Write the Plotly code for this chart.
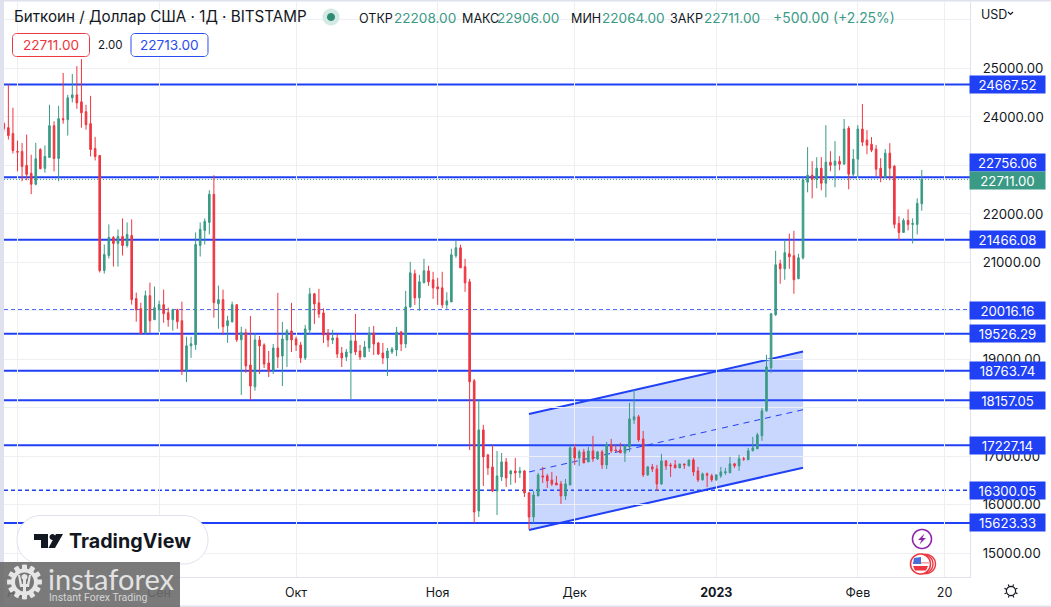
import math
import pandas as pd
import plotly.graph_objects as go

# ---------- data ----------
opens = [
 23861,23779,23656,
 23287,23287,23000,22837,22611,23328,22939,23164,23820,23144,23964,23943,24394,24455,24312,24107,23861,23349,23205,20831,21141,21514,21390,21535,21348,21555,20252,20044,19547,20313,19817,
 20024,20127,19962,19817,20024,19796,18782,19278,19299,21348,21659,21824,22404,20148,20231,19692,19775,20127,19402,19547,18882,18434,19399,19296,18924,18779,19234,19068,19399,19585,
 19420,19296,19027,19606,20350,20164,19957,19544,19399,19440,19130,19048,19130,19378,19172,19048,19234,19544,19337,19130,19027,19151,19192,19564,19316,20081,20763,20267,20577,20825,20639,
 20494,20474,20122,20184,21135,21300,20908,20598,18556,15871,17544,17028,16780,16284,16573,16883,16635,16697,16656,16697,16243,15747,16181,16594,16594,16511,16449,16429,16181,16408,
 17173,16966,17090,16883,17110,16945,17090,16821,17235,17131,17131,17069,17193,17751,17813,17358,16615,16780,16738,16429,16904,16821,16821,16759,16842,16800,16924,16697,16513,16637,16596,
 16513,16596,16658,16658,16843,16802,16947,16926,17111,17153,17421,17937,18824,19918,20971,20867,21177,21136,20661,21093,22653,22797,22715,22942,22632,23067,23004,23087,23025,23770,22818,
 23129,23750,23522,23439,23336,22942,22756,23253,22984,21804,21617,21866,21783,21783,22208]
highs = [
 23900,24667,24189,
 23513,23465,23636,23219,23465,23355,23410,24250,23909,24230,24906,24455,24886,25049,25193,24250,24435,23588,23205,21369,21783,21542,21680,21907,21824,21887,20375,20168,20417,20582,20500,
 20210,20438,20065,20044,20044,20190,19465,19465,21617,21824,21907,22487,22797,20520,20438,19899,20190,20127,19672,19630,19895,19537,19482,19330,19172,19316,20370,19771,19626,20164,
 19468,19358,19709,20474,20370,20453,20050,19626,19606,19523,19254,19213,19502,19936,19296,19378,19668,19688,19358,19337,19234,19254,19668,19585,20412,21011,20846,20742,21073,20929,20805,
 20680,20805,20384,21280,21466,21363,21073,20660,18594,18157,17647,17048,17234,17110,17069,16966,16718,16966,16780,16718,16263,16284,16656,16780,16635,16676,16594,16491,16532,17214,
 17255,17131,17152,17193,17420,17110,17131,17296,17358,17235,17276,17235,18102,18370,17854,17523,16800,16842,16821,17048,16924,16863,16924,16842,16842,16924,16966,16780,16664,16664,16637,
 16616,16781,16761,16988,16864,17029,16988,17173,17400,17483,17999,19093,19959,21239,21053,21466,21590,21652,21177,22756,23377,23087,23170,23170,23832,23294,23501,23191,23957,23812,23336,
 23832,24267,23729,23584,23418,23149,23336,23460,23004,21949,21907,22094,21907,22321,22906]
lows = [
 23700,23533,23246,
 22878,22673,22693,22406,22590,22919,22850,23164,22878,22673,23861,23615,24298,24168,23779,23738,23185,23103,20790,20769,21079,20914,20914,21141,21307,20127,19775,19526,19526,19547,19817,
 19568,19755,19672,19588,19630,18678,18533,19030,19195,21120,21369,21576,19858,19630,19506,19340,19755,19360,18264,18720,18157,18352,18696,18820,18634,18696,18820,18448,18841,19151,
 19172,18924,18986,19502,19730,19854,19337,19254,19316,19027,18841,18965,18180,19089,18986,19048,19151,19089,19089,18903,18655,19110,19068,19172,19234,20060,20122,20000,20577,20515,20246,
 20122,20060,20040,20184,21094,20887,20391,17130,15623,15747,16387,16615,16263,15788,16491,16367,16408,16449,16553,16160,15492,15623,16181,16449,16346,16387,16408,16016,16098,16408,
 16821,16800,16862,16883,16883,16925,16738,16738,17069,17100,17069,16883,17090,17668,17296,16573,16594,16676,16284,16408,16718,16573,16759,16759,16738,16800,16594,16470,16500,16362,16472,
 16493,16555,16616,16658,16761,16699,16905,16926,17111,17153,17318,17916,18721,19897,20558,20640,20867,20352,20661,21058,22445,22321,22528,22487,22342,22880,22549,22901,23025,22508,22756,
 22756,23398,23232,23274,22777,22653,22735,22694,21700,21452,21617,21659,21390,21576,22064]
closes = [
 23760,23615,23308,
 23274,22980,22816,22611,23137,22932,23185,23820,23144,23964,23943,24394,24455,24291,24086,23841,23328,23185,20831,21162,21514,21390,21535,21348,21576,20231,20024,19526,20313,19796,20065,
 20127,19941,19817,20024,19775,18761,19278,19320,21369,21680,21845,22404,20168,20231,19672,19796,20127,19402,19547,18864,18448,19399,19275,18903,18758,19234,19048,19420,19585,19399,
 19296,19027,19626,20350,20143,19936,19502,19399,19440,19110,19027,19151,19378,19151,19048,19255,19544,19316,19110,19027,19172,19213,19564,19316,20081,20784,20267,20598,20825,20598,20474,
 20453,20122,20205,21156,21300,20887,20577,18536,15850,17544,16987,16759,16284,16594,16883,16553,16697,16656,16697,16243,15747,16202,16615,16573,16491,16429,16408,16181,16429,17173,
 16966,17090,16862,17110,16945,17090,16821,17235,17110,17110,17069,17214,17771,17813,17338,16615,16780,16738,16429,16904,16800,16800,16759,16842,16821,16924,16676,16511,16637,16609,16513,
 16616,16678,16678,16843,16802,16947,16940,17111,17173,17442,17937,18845,19939,20950,20867,21198,21115,20641,21095,22701,22797,22715,22942,22632,23067,23004,23087,23025,23750,22818,23129,
 23750,23480,23418,23315,22922,22756,23253,22942,21783,21617,21866,21783,21804,22218,22711]
dates = pd.date_range("2022-07-29", periods=len(opens), freq="D")

solid_levels = [24667.52, 22756.06, 21466.08, 19526.29, 18763.74, 18157.05, 17227.14, 15623.33]
dashed_levels = [20016.16, 16300.05]
level_labels = [(24667.52, "24667.52", 0), (22756.06, "22756.06", 15), (21466.08, "21466.08", 0),
                (20016.16, "20016.16", 0), (19526.29, "19526.29", 0), (18763.74, "18763.74", 0),
                (18157.05, "18157.05", 0), (17227.14, "17227.14", 0), (16300.05, "16300.05", 0),
                (15623.33, "15623.33", 0)]
last_close = 22711.00
channel_dates = ["2022-11-21", "2023-01-20"]
channel_upper = [17872, 19159]
channel_lower = [15480, 16762]
channel_mid = [16676, 17960]
y_grid = list(range(15000, 26001, 1000))
y_shown = [15000, 16000, 17000, 19000, 21000, 22000, 24000, 25000]
month_ticks = ["2022-08-01", "2022-09-01", "2022-10-01", "2022-11-01", "2022-12-01", "2023-01-01", "2023-02-01", "2023-02-20"]
month_text = ["Авг", "Сен", "Окт", "Ноя", "Дек", "<b>2023</b>", "Фев", "20"]

# ---------- styling ----------
FONT = "Inter"
INK = "#131722"
GREEN = "#3a9a85"
RED = "#ee3640"
BLUE = "#1f40f5"
GRID = "#eeeff3"
EDGE = "#dfe2ee"
L, R, T, B = 4, 970, 2, 577
W, H = 1051, 607

def X(px): return (px - L) / (R - L)
def Y(py): return 1 - (py - T) / (B - T)
def P(pts, close=False):
    s = "M " + " L ".join(f"{X(a):.5f},{Y(b):.5f}" for a, b in pts)
    return s + (" Z" if close else "")
def arc_pts(cx, cy, rx, ry, a0, a1, n=14):
    return [(cx + rx * math.cos(math.radians(a0 + (a1 - a0) * i / n)),
             cy + ry * math.sin(math.radians(a0 + (a1 - a0) * i / n))) for i in range(n + 1)]
def rrect(x0, y0, x1, y1, r):
    pts = arc_pts(x0 + r, y0 + r, r, r, 180, 270) + arc_pts(x1 - r, y0 + r, r, r, 270, 360) \
        + arc_pts(x1 - r, y1 - r, r, r, 0, 90) + arc_pts(x0 + r, y1 - r, r, r, 90, 180)
    return P(pts, True)
def pshape(path, fill=None, line=None, lw=1, layer="above"):
    return dict(type="path", xref="paper", yref="paper", path=path, fillcolor=fill or "rgba(0,0,0,0)",
                line=dict(color=line or "rgba(0,0,0,0)", width=lw if line else 0), layer=layer)
def txt(x, y, s, size=13, color=INK, anchor="left", **kw):
    return dict(xref="paper", yref="paper", x=X(x), y=Y(y), text=s, showarrow=False, xanchor=anchor,
                yanchor="middle", font=dict(family=kw.pop("family", FONT), size=size, color=color),
                borderpad=0, **kw)

shapes, anns = [], []

# channel behind the candles
cx0, cx1 = channel_dates
shapes.append(dict(type="path", xref="x", yref="y", layer="below", fillcolor="rgba(41,90,250,0.25)", line=dict(width=0),
                   path=f"M {cx0},{channel_lower[0]} L {cx0},{channel_upper[0]} L {cx1},{channel_upper[1]} L {cx1},{channel_lower[1]} Z"))
for ys, dash, w in [(channel_upper, "solid", 2), (channel_lower, "solid", 2), (channel_mid, "6px,5px", 1)]:
    shapes.append(dict(type="line", xref="x", yref="y", x0=cx0, x1=cx1, y0=ys[0], y1=ys[1], layer="below",
                       line=dict(color=BLUE, width=w, dash=dash)))
for v in solid_levels:
    shapes.append(dict(type="line", xref="paper", yref="y", x0=0, x1=1, y0=v, y1=v, layer="below", line=dict(color=BLUE, width=2)))
for v in dashed_levels:
    shapes.append(dict(type="line", xref="paper", yref="y", x0=0, x1=1, y0=v, y1=v, layer="below", line=dict(color=BLUE, width=1.6, dash="4px,3px")))
shapes.append(dict(type="line", xref="paper", yref="y", x0=0, x1=1, y0=last_close, y1=last_close, layer="below", line=dict(color=GREEN, width=1, dash="1px,2px")))

# price labels on the axis
for v, s, shift in level_labels:
    anns.append(dict(xref="paper", yref="y", x=X(1008), y=v, xanchor="center", text=s, showarrow=False, width=75, height=17, align="center",
                     valign="middle", yshift=shift, bgcolor=BLUE, borderpad=0, font=dict(family=FONT, size=13.2, color="#ffffff")))
anns.append(dict(xref="paper", yref="y", x=X(1008), y=last_close, xanchor="center", text="22711.00", showarrow=False, width=75, height=17, align="center",
                 valign="middle", yshift=-1, bgcolor=GREEN, borderpad=0, font=dict(family=FONT, size=13.2, color="#ffffff")))

# frame
shapes += [
    pshape(P([(0, 0), (4, 0), (4, 607), (0, 607)], True), fill=EDGE),
    pshape(P([(0, 0), (1051, 0), (1051, 1.5), (0, 1.5)], True), fill=EDGE),
    pshape(P([(0, 605.5), (1051, 605.5), (1051, 607), (0, 607)], True), fill=EDGE),
]

# header
anns += [
    txt(13, 17, "Биткоин / Доллар США · 1Д · BITSTAMP", size=15.2),
    txt(358, 18, "ОТКР", size=12.6), txt(393, 18, "22208.00", size=13.6, color=GREEN),
    txt(461, 18, "МАКС", size=12.6), txt(496, 18, "22906.00", size=13.6, color=GREEN),
    txt(570, 18, "МИН", size=12.6), txt(601, 18, "22064.00", size=13.6, color=GREEN),
    txt(669, 18, "ЗАКР", size=12.6), txt(703, 18, "22711.00", size=13.6, color=GREEN),
    txt(772, 18, "+500.00 (+2.25%)", size=13.9, color=GREEN),
    txt(51, 45, "22711.00", size=13.6, color=RED, anchor="center"),
    txt(110, 45.5, "2.00", size=11.5, anchor="center"),
    txt(169, 45, "22713.00", size=13.6, color="#2b4cf0", anchor="center"),
    txt(980, 14, "USD", size=12.5),
    txt(68, 541, "<b>TradingView</b>", size=19.7),
]
shapes += [
    pshape(P(arc_pts(331, 17, 8.5, 8.5, 0, 360, 30), True), fill="#d3e9e3"),
    pshape(P(arc_pts(331, 17, 4, 4, 0, 360, 20), True), fill="#2f8a72"),
    pshape(rrect(12.5, 33.5, 89.5, 56.5, 4), fill="#ffffff", line=RED),
    pshape(rrect(131, 33.5, 208, 56.5, 4), fill="#ffffff", line="#2b4cf0"),
    pshape(P([(1008, 12), (1010.5, 14.5), (1013, 12)]), line=INK, lw=1.2),
]

# TradingView badge
shapes.append(pshape(rrect(17, 515.5, 208, 564, 24), fill="#ffffff", line="#dfe2ee"))
shapes += [
    pshape(P([(34, 534), (48, 534), (48, 548), (41, 548), (41, 540), (34, 540)], True), fill=INK),
    pshape(P(arc_pts(52.5, 537, 3, 3, 0, 360, 16), True), fill=INK),
    pshape(P([(55, 548), (48.5, 548), (56, 534), (63, 534)], True), fill=INK),
]

# instaforex watermark
gear = []
for i in range(12):
    a = i * 30
    gear += arc_pts(24.5, 582, 17.5, 17.5, a - 8, a + 8, 2) + arc_pts(24.5, 582, 13.5, 13.5, a + 11, a + 19, 2)
shapes += [
    pshape(P([(0, 562), (180, 562), (180, 607), (0, 607)], True), fill="rgba(108,108,108,0.9)"),
    pshape(P(gear, True), fill="#e6e6e6"),
    pshape(P(arc_pts(24.5, 582, 9.5, 9.5, 0, 360, 24), True), fill="#777777"),
    pshape(P(arc_pts(24.5, 577, 3, 3, 0, 360, 12), True), fill="#e6e6e6"),
    pshape(P([(23, 579), (26, 579), (26, 597), (23, 597)], True), fill="#e6e6e6"),
    pshape(P([(18, 575), (20, 575), (22, 584), (27, 584), (29, 575), (31, 575), (29, 587), (20, 587)], True), fill="#e6e6e6"),
]
anns += [
    txt(47, 578, "instaforex", size=29, color="#e2e2e2", family="Lato"),
    txt(48, 597.5, "Instant Forex Trading", size=10.5, color="#d4d4d4", family="Roboto"),
]

# event icons
PURPLE = "#8e24aa"
shapes += [
    pshape(P(arc_pts(922, 539, 9.5, 9.5, 0, 360, 30), True), fill="#ffffff", line=PURPLE, lw=1.6),
    pshape(P([(924.5, 533.5), (918, 540), (921.5, 540), (919.5, 544.5), (926, 538), (922.5, 538)], True), fill=PURPLE),
    pshape(P(arc_pts(926, 564, 9.5, 9.5, 0, 360, 30), True), fill="#ffffff", line=RED, lw=1.4),
    pshape(P(arc_pts(923.5, 564, 9.5, 9.5, 0, 360, 30), True), fill="#ffffff", line=RED, lw=1.4),
    pshape(P(arc_pts(920.5, 564, 10, 10, 0, 360, 30), True), fill="#ffffff", line=RED, lw=1.6),
    pshape(P([(913, 566), (928, 566), (926, 570.5), (915, 570.5)], True), fill=RED),
    pshape(P([(912.5, 562), (929, 562), (929, 563.5), (912.5, 563.5)], True), fill="#f3a0a5"),
    pshape(P([(914, 558), (921, 557), (921, 564), (913, 564)], True), fill="#4a6fd8"),
]

# settings icon
sun = arc_pts(1011, 591, 4.6, 4.6, 0, 360, 24)
shapes.append(pshape(P(sun, True), line=INK, lw=1.2))
for i in range(8):
    a = math.radians(i * 45 + 22)
    shapes.append(pshape(P([(1011 + 5 * math.cos(a), 591 + 5 * math.sin(a)), (1011 + 7 * math.cos(a), 591 + 7 * math.sin(a))]), line=INK, lw=1.2))

# ---------- figure ----------
fig = go.Figure(go.Candlestick(
    x=dates, open=opens, high=highs, low=lows, close=closes, whiskerwidth=0,
    increasing=dict(line=dict(color=GREEN, width=1), fillcolor=GREEN),
    decreasing=dict(line=dict(color=RED, width=1), fillcolor=RED),
    hoverinfo="skip", showlegend=False))

d0 = pd.Timestamp("2022-08-01")
x_start = d0 + pd.Timedelta(days=-2.956)
x_end = d0 + pd.Timedelta(days=208.56)
y_text = [f"{v}.00" if v in y_shown else "" for v in y_grid]

fig.update_layout(
    width=W, height=H, autosize=False, paper_bgcolor="#ffffff", plot_bgcolor="#ffffff",
    margin=dict(l=L, r=W - R, t=T, b=H - B, pad=0), boxgap=0.5, showlegend=False,
    font=dict(family=FONT, size=13, color=INK), shapes=shapes, annotations=anns,
    xaxis=dict(type="date", range=[x_start, x_end], rangeslider=dict(visible=False), tickmode="array",
               tickvals=month_ticks, ticktext=month_text, showgrid=True, gridcolor=GRID, gridwidth=1,
               zeroline=False, showline=True, linecolor=EDGE, linewidth=1, ticks="outside", ticklen=4,
               tickcolor="rgba(0,0,0,0)", tickfont=dict(family=FONT, size=12.5, color=INK)),
    yaxis=dict(range=[14509, 26371], side="right", tickmode="array", tickvals=y_grid, ticktext=y_text,
               showgrid=True, gridcolor=GRID, gridwidth=1, zeroline=False, showline=True, linecolor=EDGE,
               linewidth=1, ticks="outside", ticklen=9, tickcolor="rgba(0,0,0,0)",
               tickfont=dict(family=FONT, size=13.2, color=INK)),
)

fig.write_html("out.html", config=dict(displayModeBar=False), post_script="document.body.style.margin='0';")
